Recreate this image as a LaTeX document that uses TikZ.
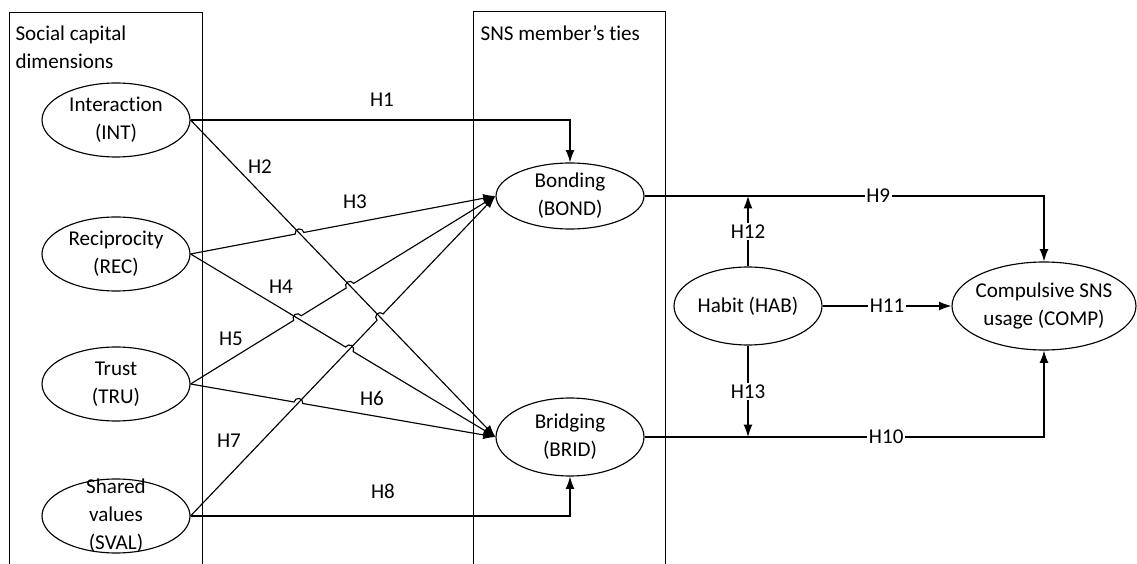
\documentclass[tikz,border=0pt]{standalone}
\usepackage{fontspec}
\setmainfont{Carlito}[Ligatures=NoCommon]
\usetikzlibrary{shapes.geometric, arrows.meta, calc, intersections}

\begin{document}
\begin{tikzpicture}[
    x=0.02cm, y=-0.02cm, line width=0.65pt,
    every node/.style={font=\fontsize{12}{16}\selectfont},
    var/.style={ellipse, draw, inner sep=0pt, minimum width=2.96cm, minimum height=1.48cm},
    link/.style={-{Latex[length=7pt,width=5pt]}},
    hyp/.style={inner sep=1pt},
    onlink/.style={fill=white, inner sep=1pt},
]
\useasboundingbox (0,0) rectangle (1137,564);

% Group boxes (open at the bottom)
\draw [line width=0.5pt] (9,564) |- (202,12) -- (202,564);
\draw [line width=0.5pt] (473,564) |- (665,11) -- (665,564);
\node (dims) [anchor=north west, align=left, inner sep=0pt] at (15,25) {Social capital\\dimensions};
\node (ties) [anchor=north west, inner sep=0pt] at (480,25) {SNS member’s ties};

% Social capital dimensions
\node (int) [var, label={[align=center]center:Interaction\\(INT)}] at (116,120) {};
\node (rec) [var, label={[align=center]center:Reciprocity\\(REC)}] at (116,254) {};
\node (tru) [var, label={[align=center]center:Trust\\(TRU)}] at (116,384) {};
\node (sval) [var, label={[align=center]center:Shared\\values\\(SVAL)}] at (116,516) {};

% Ties
\node (bond) [var, minimum height=1.32cm, label={[align=center]center:Bonding\\(BOND)}] at (570,196) {};
\node (brid) [var, minimum height=1.56cm, label={[align=center]center:Bridging\\(BRID)}] at (570,437) {};

% Habit and outcome
\node (hab) [var, minimum height=1.56cm, label=center:Habit (HAB)] at (748,306) {};
\node (comp) [var, minimum width=3.68cm, minimum height=1.76cm, label={[align=center]center:Compulsive SNS\\usage (COMP)}] at (1044,306) {};

% Crossing points of the diagonal links
\path[name path=p2] (int.east) -- (brid.west);
\path[name path=p3] (rec.east) -- (bond.west);
\path[name path=p4] (rec.east) -- (brid.west);
\path[name path=p5] (tru.east) -- (bond.west);
\path[name path=p6] (tru.east) -- (brid.west);
\path[name path=p7] (sval.east) -- (bond.west);
\path[name intersections={of=p2 and p3, by=c23}];
\path[name intersections={of=p2 and p5, by=c25}];
\path[name intersections={of=p2 and p7, by=c27}];
\path[name intersections={of=p4 and p5, by=c45}];
\path[name intersections={of=p4 and p7, by=c47}];
\path[name intersections={of=p6 and p7, by=c67}];

% Arrows (H1--H8), with line hops
\draw [link] (int.east) -- (bond.north |- int.east) -- (bond.north);
\draw [link] (int.east) -- (brid.west);
\draw [link] let \p1=($(bond.west)-(rec.east)$), \n1={atan2(\y1,\x1)}, \n2={\n1+180} in
    (rec.east) -- ($(c23)!2.5pt!(rec.east)$) arc[start angle=\n2, end angle=\n1, radius=2.5pt] -- (bond.west);
\draw [link] let \p1=($(brid.west)-(rec.east)$), \n1={atan2(\y1,\x1)}, \n2={\n1+180} in
    (rec.east) -- ($(c47)!2.5pt!(rec.east)$) arc[start angle=\n2, end angle=\n1, radius=2.5pt] -- (brid.west);
\draw [link] let \p1=($(bond.west)-(tru.east)$), \n1={atan2(\y1,\x1)}, \n2={\n1+180} in
    (tru.east) -- ($(c45)!2.5pt!(tru.east)$) arc[start angle=\n2, end angle=\n1, radius=2.5pt]
    -- ($(c25)!2.5pt!(tru.east)$) arc[start angle=\n2, end angle=\n1, radius=2.5pt] -- (bond.west);
\draw [link] let \p1=($(brid.west)-(tru.east)$), \n1={atan2(\y1,\x1)}, \n2={\n1+180} in
    (tru.east) -- ($(c67)!2.5pt!(tru.east)$) arc[start angle=\n2, end angle=\n1, radius=2.5pt] -- (brid.west);
\draw [link] let \p1=($(bond.west)-(sval.east)$), \n1={atan2(\y1,\x1)}, \n2={\n1+180} in
    (sval.east) -- ($(c27)!2.5pt!(sval.east)$) arc[start angle=\n2, end angle=\n1, radius=2.5pt] -- (bond.west);
\draw [link] (sval.east) -- (brid.south |- sval.east) -- (brid.south);

% Hypothesis labels
\node (h1) [hyp] at (382,100) {H1};
\node (h2) [hyp] at (260,167) {H2};
\node (h3) [hyp] at (355,202) {H3};
\node (h4) [hyp] at (281,287) {H4};
\node (h5) [hyp] at (231,339) {H5};
\node (h6) [hyp] at (372,398) {H6};
\node (h7) [hyp] at (229,441) {H7};
\node (h8) [hyp] at (383,491) {H8};

% Arrows (H9--H13)
\draw [link] (bond.east) -- node[onlink, pos=0.585] {H9} (comp.north |- bond.east) -- (comp.north);
\draw [link] (brid.east) -- node[onlink, pos=0.605] {H10} (comp.south |- brid.east) -- (comp.south);
\draw [link] (hab.east) -- node[onlink] {H11} (comp.west);
\draw [link] (hab.north) -- node[onlink] {H12} (hab.north |- bond.east);
\draw [link] (hab.south) -- node[onlink] {H13} (hab.south |- brid.east);

\end{tikzpicture}
\end{document}
